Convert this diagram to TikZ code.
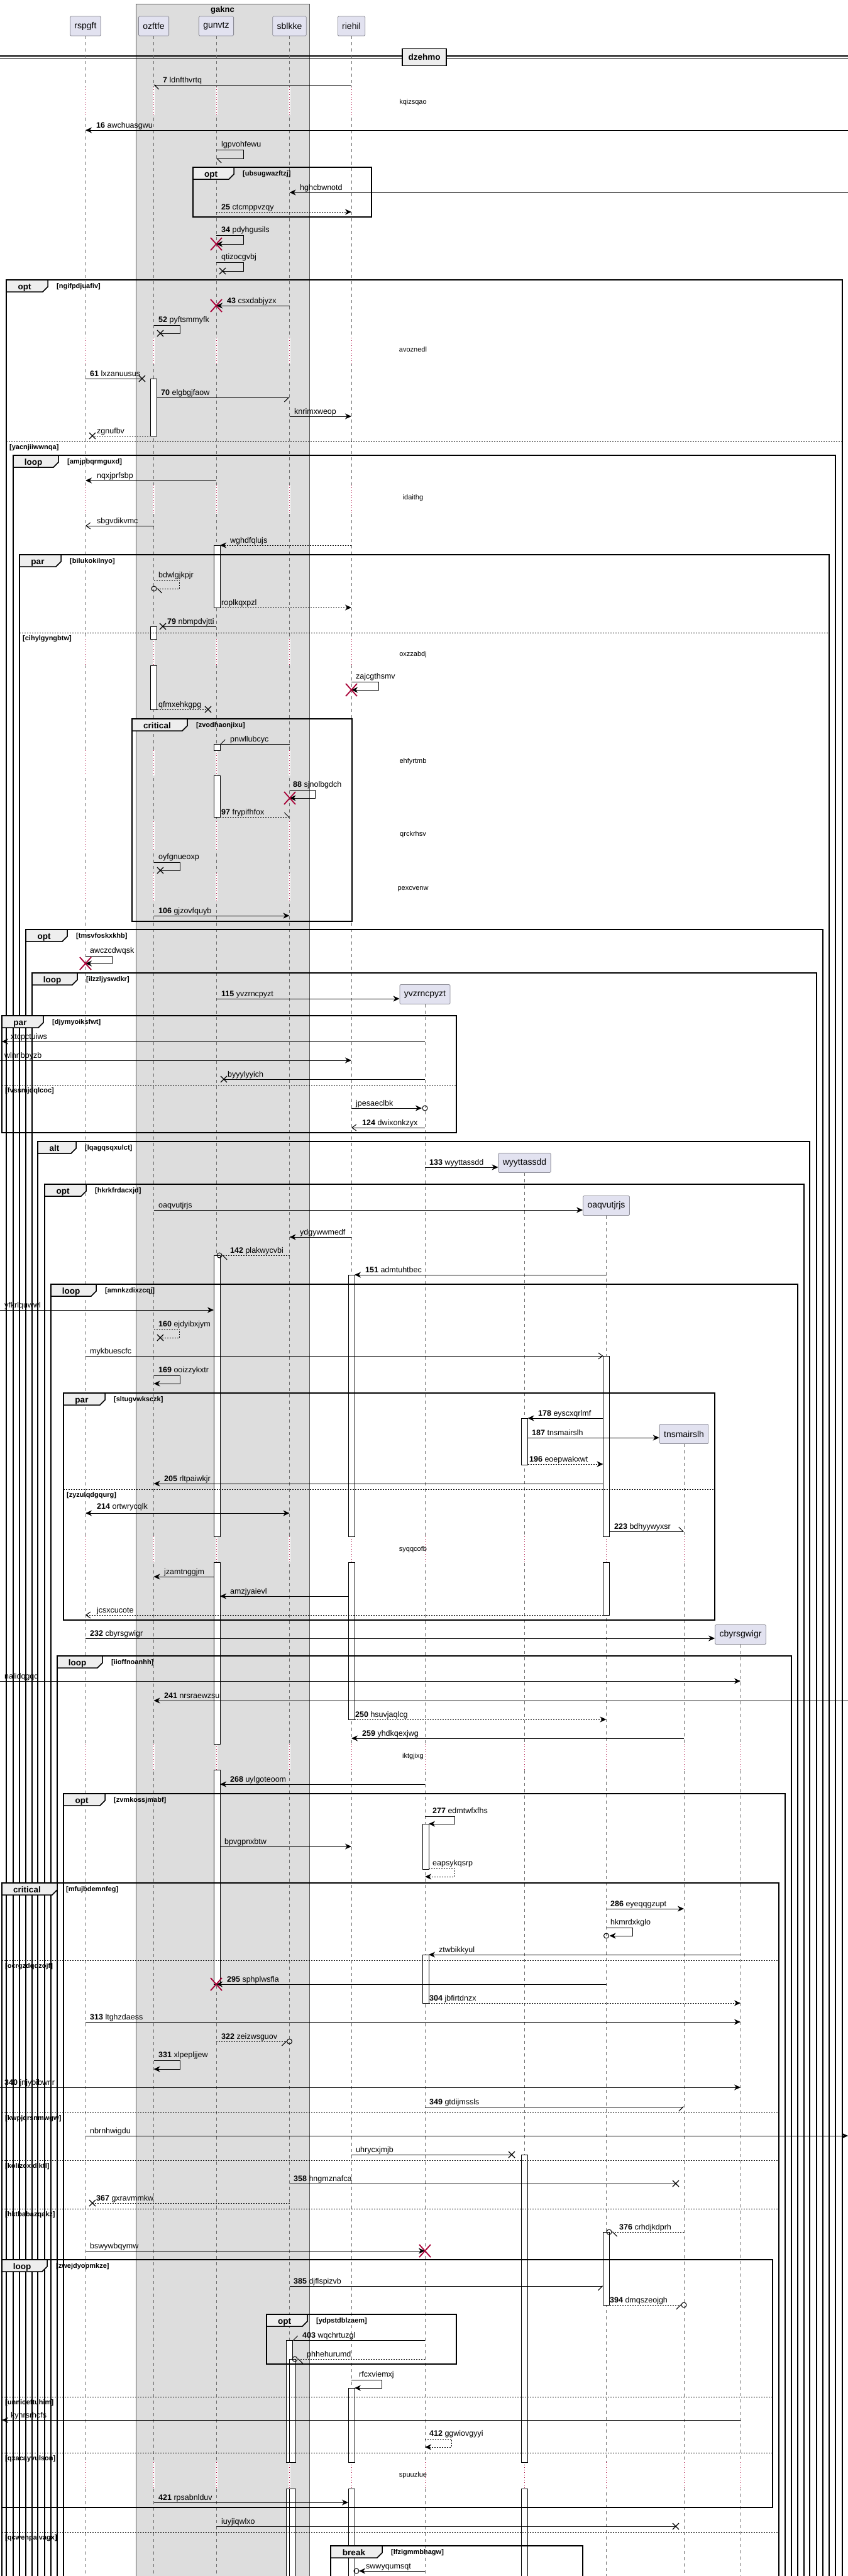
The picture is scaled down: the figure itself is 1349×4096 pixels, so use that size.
\documentclass[tikz,border=0pt]{standalone}
\usepackage{fontspec}
\setmainfont{Liberation Sans}
\usetikzlibrary{arrows.meta,calc}
\definecolor{partfill}{RGB}{226,226,240}
\definecolor{partdraw}{RGB}{140,140,150}
\definecolor{boxfill}{RGB}{221,221,221}
\definecolor{dred}{RGB}{168,0,54}
\definecolor{tabfill}{RGB}{238,238,238}
\definecolor{lifec}{RGB}{110,110,110}
\newcounter{lc}
\newcommand{\PX}[3]{($(#1 |- 0,#3)+(#2,0)$)}
\newcommand{\lbl}[3]{\stepcounter{lc}\node[lab] (t\arabic{lc}) at (#1,#2) {#3};}
\newcommand{\dtx}[2]{\stepcounter{lc}\node[dtxt] (t\arabic{lc}) at (657,#1) {#2};}
\newcommand{\bX}[2]{\draw[xk] ({#1-5},{#2-5}) -- ({#1+5},{#2+5}) ({#1-5},{#2+5}) -- ({#1+5},{#2-5});}
\newcommand{\rX}[2]{\draw[rxk] ({#1-9},{#2-10}) -- ({#1+9},{#2+10}) ({#1-9},{#2+10}) -- ({#1+9},{#2-10});}
\newcommand{\oC}[2]{\draw[line width=1pt] (#1,#2) circle[radius=4pt];}
\newcommand{\act}[4]{\draw[actst] ($(#1 |- 0,#3)+({#2-5},0)$) rectangle ($(#1 |- 0,#4)+({#2+5},0)$);}
\newcommand{\frm}[7]{%
 \draw[fr] (#1,#2) rectangle (#3,#4);
 \draw[tabst] (#1,#2) -- ({#1+#6},#2) -- ({#1+#6},{#2+11}) -- ({#1+#6-8},{#2+19}) -- (#1,{#2+19}) -- cycle;
 \stepcounter{lc}\node[kw] (t\arabic{lc}) at ({#1+(#6-8)/2},{#2+15}) {#5};
 \stepcounter{lc}\node[cond] (t\arabic{lc}) at ({#1+#6+14},{#2+13}) {[#7]};}
\newcommand{\els}[4]{\draw[elsest] (#1,#3) -- (#2,#3); \stepcounter{lc}\node[cond] (t\arabic{lc}) at ({#1+5},{#3+12}) {[#4]};}
\newcommand{\dly}[3]{\foreach \n in {#3}{\draw[white,line width=3pt] (\n |- 0,#1) -- (\n |- 0,#2); \draw[dlife] (\n |- 0,#1) -- (\n |- 0,#2);}}
\begin{document}
\begin{tikzpicture}[x=1pt,y=-1pt,
 m/.style={line width=1pt},
 d/.style={line width=1pt,dash pattern=on 2pt off 2pt},
 F/.style={-{Stealth[length=10pt,width=9pt,inset=3pt]}},
 FF/.style={{Stealth[length=10pt,width=9pt,inset=3pt]}-{Stealth[length=10pt,width=9pt,inset=3pt]}},
 O/.style={-{Straight Barb[length=7pt,width=10pt]}},
 HL/.style={-{Straight Barb[left,length=7pt,width=14pt]}},
 HR/.style={-{Straight Barb[right,length=7pt,width=14pt]}},
 lab/.style={font=\fontsize{12.5}{15}\selectfont,anchor=base west,inner sep=0pt},
 dtxt/.style={font=\fontsize{11}{13}\selectfont,anchor=base,inner sep=0pt},
 kw/.style={font=\bfseries\fontsize{13.5}{16}\selectfont,anchor=base,inner sep=0pt},
 cond/.style={font=\bfseries\fontsize{11}{13}\selectfont,anchor=base west,inner sep=0pt},
 fr/.style={line width=1.5pt},
 tabst/.style={line width=1.5pt,fill=tabfill},
 elsest/.style={line width=1pt,dash pattern=on 2pt off 2pt},
 actst/.style={fill=white,draw=black,line width=0.8pt},
 life/.style={draw=lifec,line width=0.8pt,dash pattern=on 5pt off 5pt},
 dlife/.style={draw=dred,line width=0.8pt,dash pattern=on 1pt off 3pt},
 xk/.style={line width=1.3pt},
 rxk/.style={draw=dred,line width=1.8pt},
 part/.style={draw=partdraw,fill=partfill,minimum height=31pt,inner xsep=7pt,font=\fontsize{14}{16}\selectfont,rounded corners=1.5pt,line width=0.8pt}]
\useasboundingbox (0,0) rectangle (1349,4096);
\fill[white] (0,0) rectangle (1349,4096);
\coordinate (Ledge) at (0,0);
\coordinate (Redge) at (1349,0);
% box
\fill[boxfill] (216,6) rectangle (492,4110);
\draw[gray!70!black,line width=0.6pt] (216,4110) -- (216,6) -- (492,6) -- (492,4110);
\node[font=\bfseries\fontsize{13}{15}\selectfont,anchor=base] (gaknc) at (354,19) {gaknc};
% divider
\draw[line width=1.3pt] (0,89) -- (1349,89);
\draw[line width=1.3pt] (0,93.5) -- (1349,93.5);
% participants
\node[part] (rspgft) at (136,41.5) {rspgft};
\node[part] (ozftfe) at (244.5,41.5) {ozftfe};
\node[part] (gunvtz) at (344,41.5) {gunvtz};
\node[part] (sblkke) at (460.5,41.5) {sblkke};
\node[part] (riehil) at (559,41.5) {riehil};
\node[part] (yvzrncpyzt) at (676,1581) {yvzrncpyzt};
\node[part] (wyyttassdd) at (834.5,1849) {wyyttassdd};
\node[part] (oaqvutjrjs) at (964.5,1917) {oaqvutjrjs};
\node[part] (tnsmairslh) at (1088,2280) {tnsmairslh};
\node[part] (cbyrsgwigr) at (1178,2599) {cbyrsgwigr};
% lifelines
\foreach \p in {rspgft,ozftfe,gunvtz,sblkke,riehil,yvzrncpyzt,wyyttassdd,oaqvutjrjs,tnsmairslh,cbyrsgwigr}{\draw[life] (\p.south) -- (\p |- 0,4110);}
\node[draw,line width=1.5pt,fill=tabfill,minimum width=70pt,minimum height=27pt,font=\bfseries\fontsize{13.5}{16}\selectfont] (dzehmo) at (675,91) {dzehmo};
% delays
\dly{138}{183}{rspgft,ozftfe,gunvtz,sblkke,riehil}
\dly{537}{579}{rspgft,ozftfe,gunvtz,sblkke,riehil}
\dly{771}{817}{rspgft,ozftfe,gunvtz,sblkke,riehil}
\dly{1016}{1058}{rspgft,ozftfe,gunvtz,sblkke,riehil}
\dly{1193}{1233}{rspgft,ozftfe,gunvtz,sblkke,riehil}
\dly{1306}{1352}{rspgft,ozftfe,gunvtz,sblkke,riehil}
\dly{1388}{1433}{rspgft,ozftfe,gunvtz,sblkke,riehil}
\dly{2443}{2484}{rspgft,ozftfe,gunvtz,sblkke,riehil,yvzrncpyzt,wyyttassdd,oaqvutjrjs,tnsmairslh}
\dly{2773}{2814}{rspgft,ozftfe,gunvtz,sblkke,riehil,yvzrncpyzt,wyyttassdd,oaqvutjrjs,tnsmairslh,cbyrsgwigr}
\dly{3915}{3957}{rspgft,ozftfe,gunvtz,sblkke,riehil,yvzrncpyzt,wyyttassdd,oaqvutjrjs,tnsmairslh,cbyrsgwigr}
\dtx{165}{kqizsqao}
% activations
\act{ozftfe}{0}{602}{693}
\act{gunvtz}{1}{867}{966}
\act{ozftfe}{0}{996}{1016}
\act{ozftfe}{0}{1058}{1128}
\act{gunvtz}{1}{1183}{1193}
\act{gunvtz}{1}{1233}{1299}
\act{gunvtz}{1}{1996}{2443}
\act{gunvtz}{1}{2484}{2773}
\act{gunvtz}{1}{2814}{3155}
\act{riehil}{0}{2027}{2443}
\act{riehil}{0}{2484}{2734}
\act{oaqvutjrjs}{0}{2156}{2443}
\act{oaqvutjrjs}{0}{2484}{2568}
\act{wyyttassdd}{0}{2255}{2329}
\act{yvzrncpyzt}{1}{2900}{2972}
\act{yvzrncpyzt}{1}{3108}{3185}
\act{wyyttassdd}{0}{3426}{3915}
\act{wyyttassdd}{0}{3957}{4110}
\act{oaqvutjrjs}{0}{3549}{3665}
\act{sblkke}{0}{3721}{3915}
\act{sblkke}{0}{3957}{4110}
\act{sblkke}{5}{3751}{3915}
\act{sblkke}{5}{3957}{4110}
\act{riehil}{0}{3797}{3915}
\act{riehil}{0}{3957}{4110}
% messages
\draw[m,HL] \PX{riehil}{0}{135} -- \PX{ozftfe}{0}{135}; \lbl{259}{131}{\textbf{7} ldnfthvrtq}
\draw[m,F] \PX{Redge}{0}{207} -- \PX{rspgft}{0}{207}; \lbl{153}{203}{\textbf{16} awchuasgwu}
\draw[m,HL] \PX{gunvtz}{0}{238} -- ++(43,0) -- ++(0,14) -- \PX{gunvtz}{0}{252}; \lbl{352}{233}{lgpvohfewu}
\frm{307}{266}{591}{345}{opt}{65}{ubsugwazftzj}
\draw[m,F] \PX{Redge}{0}{306} -- \PX{sblkke}{0}{306}; \lbl{477}{302}{hghcbwnotd}
\draw[d,F] \PX{gunvtz}{0}{337} -- \PX{riehil}{0}{337}; \lbl{352}{333}{\textbf{25} ctcmppvzqy}
\draw[m,F] \PX{gunvtz}{0}{374} -- ++(43,0) -- ++(0,14) -- \PX{gunvtz}{0}{388}; \rX{344}{388} \lbl{352}{369}{\textbf{34} pdyhgusils}
\draw[m] \PX{gunvtz}{0}{417} -- ++(43,0) -- ++(0,14) -- (354,431); \bX{354}{431} \lbl{352}{412}{qtizocgvbj}
\frm{10}{445}{1340}{4110}{opt}{66}{ngifpdjuafiv}
\draw[m,F] \PX{sblkke}{0}{486} -- \PX{gunvtz}{0}{486}; \rX{344}{486} \lbl{361}{482}{\textbf{43} csxdabjyzx}
\draw[m] \PX{ozftfe}{0}{517} -- ++(42,0) -- ++(0,13) -- (255,530); \bX{255}{530} \lbl{252}{512}{\textbf{52} pyftsmmyfk}
\dtx{559}{avoznedl}
\draw[m] \PX{rspgft}{0}{602} -- (226,602); \bX{226}{602} \lbl{143}{598}{\textbf{61} lxzanuusus}
\draw[m,HR] \PX{ozftfe}{5}{632} -- \PX{sblkke}{0}{632}; \lbl{256}{628}{\textbf{70} elgbgjfaow}
\draw[m,F] \PX{sblkke}{0}{662} -- \PX{riehil}{0}{662}; \lbl{468}{658}{knrimxweop}
\draw[d] \PX{ozftfe}{-5}{693} -- (147,693); \bX{147}{693} \lbl{154}{689}{zgnufbv}
\els{10}{1340}{702}{yacnjiiwwnqa}
\frm{21}{724}{1329}{4110}{loop}{72}{amjpbqrmguxd}
\draw[m,F] \PX{gunvtz}{0}{764} -- \PX{rspgft}{0}{764}; \lbl{154}{760}{nqxjprfsbp}
\dtx{794}{idaithg}
\draw[m,O] \PX{ozftfe}{0}{836} -- \PX{rspgft}{0}{836}; \lbl{154}{832}{sbgvdikvmc}
\draw[d,F] \PX{riehil}{0}{867} -- \PX{gunvtz}{6}{867}; \lbl{366}{863}{wghdfqlujs}
\frm{31}{882}{1319}{4110}{par}{66}{bilukokilnyo}
\draw[d,HL] \PX{ozftfe}{0}{923} -- ++(41,0) -- ++(0,13) -- \PX{ozftfe}{5}{936}; \oC{245}{936} \lbl{252}{918}{bdwlgjkpjr}
\draw[d,F] \PX{gunvtz}{6}{966} -- \PX{riehil}{0}{966}; \lbl{352}{962}{roplkqxpzl}
\draw[m] \PX{gunvtz}{0}{996} -- (259,996); \bX{259}{996} \lbl{266}{992}{\textbf{79} nbmpdvjtti}
\els{31}{1319}{1006}{cihylgyngbtw}
\dtx{1043}{oxzzabdj}
\draw[m,F] \PX{riehil}{0}{1084} -- ++(43,0) -- ++(0,13) -- \PX{riehil}{0}{1097}; \rX{559}{1097} \lbl{566}{1079}{zajcgthsmv}
\draw[d] \PX{ozftfe}{5}{1128} -- (331,1128); \bX{331}{1128} \lbl{252}{1124}{qfmxehkgpg}
\frm{210}{1143}{560}{1465}{critical}{88}{zvodhaonjixu}
\draw[m,HR] \PX{sblkke}{0}{1183} -- \PX{gunvtz}{6}{1183}; \lbl{366}{1179}{pnwllubcyc}
\dtx{1213}{ehfyrtmb}
\draw[m,F] \PX{sblkke}{0}{1256} -- ++(41,0) -- ++(0,13) -- \PX{sblkke}{0}{1269}; \rX{461}{1269} \lbl{466}{1251}{\textbf{88} sjnolbgdch}
\draw[d,HL] \PX{gunvtz}{6}{1299} -- \PX{sblkke}{0}{1299}; \lbl{352}{1295}{\textbf{97} frypifhfox}
\dtx{1329}{qrckrhsv}
\draw[m] \PX{ozftfe}{0}{1371} -- ++(42,0) -- ++(0,13) -- (255,1384); \bX{255}{1384} \lbl{252}{1366}{oyfgnueoxp}
\dtx{1415}{pexcvenw}
\draw[m,F] \PX{ozftfe}{0}{1456} -- \PX{sblkke}{0}{1456}; \lbl{252}{1452}{\textbf{106} gjzovfquyb}
\frm{41}{1478}{1309}{4110}{opt}{66}{tmsvfoskxkhb}
\draw[m,F] \PX{rspgft}{0}{1520} -- ++(42,0) -- ++(0,12) -- \PX{rspgft}{0}{1532}; \rX{136}{1532} \lbl{143}{1515}{awczcdwqsk}
\frm{51}{1547}{1299}{4110}{loop}{72}{ilzzljyswdkr}
\draw[m,F] \PX{gunvtz}{0}{1588} -- (yvzrncpyzt.west |- 0,1588); \lbl{352}{1584}{\textbf{115} yvzrncpyzt}
\frm{3}{1615}{726}{1801}{par}{66}{djymyoiksfwt}
\draw[m,F] \PX{yvzrncpyzt}{0}{1656} -- \PX{Ledge}{3}{1656}; \lbl{17}{1652}{xtcpctuiws}
\draw[m,F] \PX{Ledge}{0}{1686} -- \PX{riehil}{0}{1686}; \lbl{7}{1682}{wlnnbpyzb}
\draw[m] \PX{yvzrncpyzt}{0}{1716} -- (356,1716); \bX{356}{1716} \lbl{362}{1712}{byyylyyich}
\els{3}{726}{1725}{fvssmjdqlcoc}
\draw[m,F] \PX{riehil}{0}{1762} -- \PX{yvzrncpyzt}{-5}{1762}; \oC{676}{1762} \lbl{566}{1758}{jpesaeclbk}
\draw[m,O] \PX{yvzrncpyzt}{0}{1793} -- \PX{riehil}{0}{1793}; \lbl{576}{1789}{\textbf{124} dwixonkzyx}
\frm{60}{1815}{1288}{4110}{alt}{61}{lqagqsqxulct}
\draw[m,F] \PX{yvzrncpyzt}{0}{1856} -- (wyyttassdd.west |- 0,1856); \lbl{683}{1852}{\textbf{133} wyyttassdd}
\frm{71}{1883}{1279}{4110}{opt}{66}{hkrkfrdacxjd}
\draw[m,F] \PX{ozftfe}{0}{1924} -- (oaqvutjrjs.west |- 0,1924); \lbl{252}{1920}{oaqvutjrjs}
\draw[m,F] \PX{riehil}{0}{1967} -- \PX{sblkke}{0}{1967}; \lbl{477}{1963}{ydgywwmedf}
\draw[d,HL] \PX{sblkke}{0}{1996} -- \PX{gunvtz}{9}{1996}; \oC{349}{1996} \lbl{366}{1992}{\textbf{142} plakwycvbi}
\draw[m,F] \PX{oaqvutjrjs}{0}{2027} -- \PX{riehil}{5}{2027}; \lbl{581}{2023}{\textbf{151} admtuhtbec}
\frm{81}{2042}{1269}{4110}{loop}{72}{amnkzdixzcqj}
\draw[m,F] \PX{Ledge}{0}{2083} -- \PX{gunvtz}{-4}{2083}; \lbl{7}{2079}{yfkrlquwwl}
\draw[d] \PX{ozftfe}{0}{2114} -- ++(41,0) -- ++(0,13) -- (255,2127); \bX{255}{2127} \lbl{252}{2109}{\textbf{160} ejdyibxjym}
\draw[m,O] \PX{rspgft}{0}{2156} -- \PX{oaqvutjrjs}{-5}{2156}; \lbl{143}{2152}{mykbuescfc}
\draw[m,F] \PX{ozftfe}{0}{2187} -- ++(42,0) -- ++(0,13) -- \PX{ozftfe}{0}{2200}; \lbl{252}{2182}{\textbf{169} ooizzykxtr}
\frm{101}{2215}{1137}{2576}{par}{66}{sltugvwksczk}
\draw[m,F] \PX{oaqvutjrjs}{-5}{2255} -- \PX{wyyttassdd}{5}{2255}; \lbl{856}{2251}{\textbf{178} eyscxqrlmf}
\draw[m,F] \PX{wyyttassdd}{5}{2286} -- (tnsmairslh.west |- 0,2286); \lbl{846}{2282}{\textbf{187} tnsmairslh}
\draw[d,F] \PX{wyyttassdd}{5}{2328} -- \PX{oaqvutjrjs}{-5}{2328}; \lbl{842}{2324}{\textbf{196} eoepwakxwt}
\draw[m,F] \PX{oaqvutjrjs}{-5}{2359} -- \PX{ozftfe}{0}{2359}; \lbl{261}{2355}{\textbf{205} rltpaiwkjr}
\els{101}{1137}{2368}{zyzulqdgqurg}
\draw[m,FF] \PX{rspgft}{0}{2406} -- \PX{sblkke}{0}{2406}; \lbl{154}{2399}{\textbf{214} ortwrycqlk}
\draw[m,HL] \PX{oaqvutjrjs}{5}{2435} -- \PX{tnsmairslh}{0}{2435}; \lbl{977}{2431}{\textbf{223} bdhyywyxsr}
\dtx{2466}{syqqcofb}
\draw[m,F] \PX{gunvtz}{-4}{2507} -- \PX{ozftfe}{0}{2507}; \lbl{261}{2503}{jzamtnggjm}
\draw[m,F] \PX{riehil}{-5}{2538} -- \PX{gunvtz}{6}{2538}; \lbl{366}{2534}{amzjyaievl}
\draw[d,O] \PX{oaqvutjrjs}{-5}{2568} -- \PX{rspgft}{0}{2568}; \lbl{154}{2564}{jcsxcucote}
\draw[m,F] \PX{rspgft}{0}{2605} -- (cbyrsgwigr.west |- 0,2605); \lbl{143}{2601}{\textbf{232} cbyrsgwigr}
\frm{91}{2633}{1259}{4110}{loop}{72}{iioffnoanhh}
\draw[m,F] \PX{Ledge}{0}{2673} -- \PX{cbyrsgwigr}{0}{2673}; \lbl{7}{2669}{nalidqgqd}
\draw[m,F] \PX{Redge}{0}{2704} -- \PX{ozftfe}{0}{2704}; \lbl{261}{2700}{\textbf{241} nrsraewzsu}
\draw[d,F] \PX{riehil}{5}{2734} -- \PX{oaqvutjrjs}{0}{2734}; \lbl{565}{2730}{\textbf{250} hsuvjaqlcg}
\draw[m,F] \PX{tnsmairslh}{0}{2764} -- \PX{riehil}{0}{2764}; \lbl{576}{2760}{\textbf{259} yhdkqexjwg}
\dtx{2795}{iktgjixg}
\draw[m,F] \PX{yvzrncpyzt}{0}{2837} -- \PX{gunvtz}{6}{2837}; \lbl{366}{2833}{\textbf{268} uylgoteoom}
\frm{101}{2852}{1249}{4110}{opt}{66}{zvmkossjmabf}
\draw[m,F] \PX{yvzrncpyzt}{0}{2888} -- ++(47,0) -- ++(0,12) -- \PX{yvzrncpyzt}{6}{2900}; \lbl{688}{2883}{\textbf{277} edmtwfxfhs}
\draw[m,F] \PX{gunvtz}{6}{2936} -- \PX{riehil}{0}{2936}; \lbl{357}{2932}{bpvgpnxbtw}
\draw[d,F] \PX{yvzrncpyzt}{6}{2971} -- (723,2971) -- (723,2984) -- \PX{yvzrncpyzt}{0}{2984}; \lbl{688}{2966}{eapsykqsrp}
\frm{3}{2994}{1239}{4110}{critical}{88}{mfujbdemnfeg}
\draw[m,F] \PX{oaqvutjrjs}{0}{3035} -- \PX{tnsmairslh}{0}{3035}; \lbl{971}{3031}{\textbf{286} eyeqqgzupt}
\draw[m,F] \PX{oaqvutjrjs}{0}{3065} -- ++(42,0) -- ++(0,13) -- \PX{oaqvutjrjs}{5}{3078}; \oC{964.5}{3078} \lbl{971}{3060}{hkmrdxkglo}
\draw[m,F] \PX{cbyrsgwigr}{0}{3108} -- \PX{yvzrncpyzt}{6}{3108}; \lbl{698}{3104}{ztwbikkyul}
\els{3}{1239}{3117}{ocrgzdqqzojf}
\draw[m,F] \PX{oaqvutjrjs}{0}{3155} -- \PX{gunvtz}{0}{3155}; \rX{344}{3155} \lbl{361}{3151}{\textbf{295} sphplwsfla}
\draw[d,F] \PX{yvzrncpyzt}{6}{3185} -- \PX{cbyrsgwigr}{0}{3185}; \lbl{683}{3181}{\textbf{304} jbfirtdnzx}
\draw[m,F] \PX{rspgft}{0}{3215} -- \PX{cbyrsgwigr}{0}{3215}; \lbl{143}{3211}{\textbf{313} ltghzdaess}
\draw[d,HR] \PX{gunvtz}{0}{3246} -- \PX{sblkke}{-4}{3246}; \oC{460.5}{3246} \lbl{352}{3242}{\textbf{322} zeizwsguov}
\draw[m,F] \PX{ozftfe}{0}{3276} -- ++(42,0) -- ++(0,14) -- \PX{ozftfe}{0}{3290}; \lbl{252}{3271}{\textbf{331} xlpepljjew}
\draw[m,F] \PX{Ledge}{0}{3319} -- \PX{cbyrsgwigr}{0}{3319}; \lbl{7}{3315}{\textbf{340} jnjybibwnr}
\draw[m,HR] \PX{yvzrncpyzt}{0}{3350} -- \PX{tnsmairslh}{0}{3350}; \lbl{683}{3346}{\textbf{349} gtdijmssls}
\els{3}{1239}{3359}{kwpjqrsnmwgw}
\draw[m,F] \PX{rspgft}{0}{3396} -- \PX{Redge}{0}{3396}; \lbl{143}{3392}{nbrnhwigdu}
\draw[m] \PX{riehil}{0}{3426} -- (814,3426); \bX{814}{3426} \lbl{566}{3422}{uhrycxjmjb}
\els{3}{1239}{3435}{kolizoxidiktl}
\draw[m] \PX{sblkke}{0}{3472} -- (1075,3472); \bX{1075}{3472} \lbl{467}{3468}{\textbf{358} hngmznafca}
\draw[d] \PX{sblkke}{0}{3503} -- (147,3503); \bX{147}{3503} \lbl{153}{3499}{\textbf{367} gxravmmkw}
\els{3}{1239}{3512}{hktbabazqakz}
\draw[d,HL] \PX{tnsmairslh}{0}{3549} -- \PX{oaqvutjrjs}{9}{3549}; \oC{969}{3549} \lbl{985}{3545}{\textbf{376} crhdjkdprh}
\draw[m,F] \PX{rspgft}{0}{3579} -- \PX{yvzrncpyzt}{0}{3579}; \rX{676}{3579} \lbl{143}{3575}{bswywbqymw}
\frm{3}{3593}{1229}{3987}{loop}{72}{zwejdyopmkze}
\draw[m,HR] \PX{sblkke}{0}{3635} -- \PX{oaqvutjrjs}{-5}{3635}; \lbl{467}{3631}{\textbf{385} djflspizvb}
\draw[d,HR] \PX{oaqvutjrjs}{5}{3665} -- \PX{tnsmairslh}{-4}{3665}; \oC{1088}{3665} \lbl{970}{3661}{\textbf{394} dmqszeojgh}
\frm{424}{3680}{726}{3759}{opt}{65}{ydpstdblzaem}
\draw[m,HR] \PX{yvzrncpyzt}{0}{3721} -- \PX{sblkke}{5}{3721}; \lbl{481}{3717}{\textbf{403} wqchrtuzgl}
\draw[d,HL] \PX{yvzrncpyzt}{0}{3751} -- \PX{sblkke}{13}{3751}; \oC{469}{3751} \lbl{488}{3747}{phhehurumd}
\draw[m,F] \PX{riehil}{0}{3784} -- ++(48,0) -- ++(0,13) -- \PX{riehil}{5}{3797}; \lbl{571}{3779}{rfcxviemxj}
\els{3}{1229}{3811}{unnioeftuhim}
\draw[m,F] \PX{cbyrsgwigr}{0}{3848} -- \PX{Ledge}{3}{3848}; \lbl{17}{3844}{kynrsrhcfs}
\draw[d,F] \PX{yvzrncpyzt}{0}{3878} -- ++(42,0) -- ++(0,13) -- \PX{yvzrncpyzt}{0}{3891}; \lbl{683}{3873}{\textbf{412} ggwiovgyyi}
\els{3}{1229}{3900}{qxacayvulson}
\dtx{3938}{spuuzlue}
\draw[m,F] \PX{ozftfe}{0}{3979} -- \PX{riehil}{-5}{3979}; \lbl{252}{3975}{\textbf{421} rpsabnlduv}
\draw[m] \PX{gunvtz}{0}{4017} -- (1075,4017); \bX{1075}{4017} \lbl{352}{4013}{iuyjiqwlxo}
\els{3}{1239}{4026}{qcwehpaivagx}
\frm{526}{4048}{927}{4110}{break}{82}{lfzigmmbhagw}
\draw[m,F] \PX{yvzrncpyzt}{0}{4088} -- \PX{riehil}{12}{4088}; \oC{567}{4088} \lbl{582}{4084}{swwyqumsqt}
\end{tikzpicture}
\end{document}
